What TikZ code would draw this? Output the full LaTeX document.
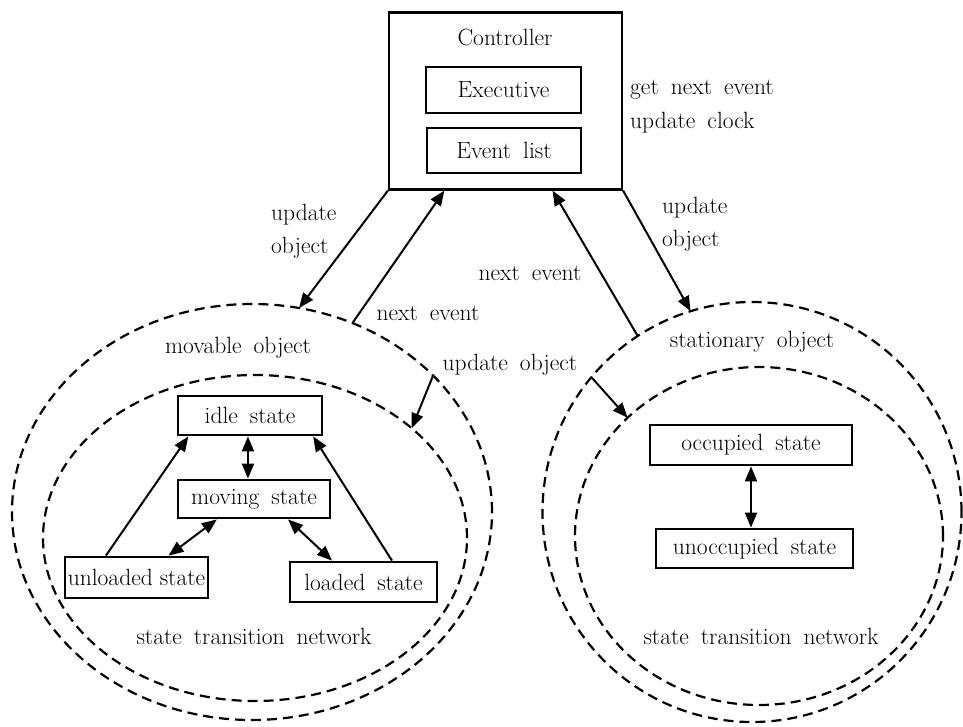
\documentclass[tikz,border=0pt]{standalone}
\usetikzlibrary{shapes.geometric,arrows.meta,calc}
\newcommand{\labelfont}{\fontsize{23.5}{33}\selectfont\spaceskip=12pt plus 2pt minus 1pt\relax}
\newcommand{\tightlabelfont}{\fontsize{23.5}{33}\selectfont\spaceskip=7pt plus 1pt minus 1pt\relax}
\begin{document}
\begin{tikzpicture}[x=1pt,y=-1pt,
  every node/.style={font=\labelfont},
  box/.style={draw, rectangle, line width=2.8pt, inner sep=0pt},
  ring/.style={draw, ellipse, dash pattern=on 10pt off 6pt, line width=2.2pt, inner sep=0pt, outer sep=0pt},
  tip/.tip={Triangle[length=15pt,width=12pt]},
  conn/.style={line width=2pt, -tip},
  both/.style={line width=2pt, tip-tip},
  txt/.style={inner sep=0pt}]
\useasboundingbox (0,0) rectangle (963,726);

% dashed object and network boundaries
\node[ring, minimum width=480pt, minimum height=416pt] (movable) at (252,512) {};
\node[ring, minimum width=424pt, minimum height=326pt] (stnl) at (255,538) {};
\node[ring, minimum width=419pt, minimum height=420pt] (stationary) at (752,512) {};
\node[ring, minimum width=368pt, minimum height=338pt] (stnr) at (759,536) {};

% controller
\node[box, line width=2.2pt, minimum width=233pt, minimum height=177pt] (ctrl) at (505.5,101) {};
\node[txt] (ctrltitle) at (505,37) {Controller};
\node[box, minimum width=155pt, minimum height=46pt] (exec) at (503.5,90) {Executive};
\node[box, minimum width=154pt, minimum height=45pt] (evlist) at (504,150.5) {Event list};
\node[txt, anchor=west] (gne) at (630,90) {get next event};
\node[txt, anchor=west] (uclk) at (630,123) {update clock};

% states of the movable object
\node[box, minimum width=144pt, minimum height=39pt] (idle) at (250,415.5) {idle state};
\node[box, minimum width=152pt, minimum height=38pt] (moving) at (254,499) {moving state};
\node[box, minimum width=143pt, minimum height=41pt, font=\tightlabelfont] (unloaded) at (136.5,577.5) {unloaded state};
\node[box, minimum width=147pt, minimum height=40pt] (loaded) at (363.5,582) {loaded state};

% states of the stationary object
\node[box, minimum width=202pt, minimum height=40pt] (occupied) at (751,445) {occupied state};
\node[box, minimum width=197pt, minimum height=39pt] (unoccupied) at (754.5,548.5) {unoccupied state};

% labels
\node[txt, align=left, anchor=west] (updL) at (271,231) {update\\object};
\node[txt, align=left, anchor=west] (updR) at (662,224) {update\\object};
\node[txt] (neR) at (530,273) {next event};
\node[txt] (neL) at (428,313) {next event};
\node[txt] (updM) at (510,365) {update object};
\node[txt] (movlbl) at (238,348) {movable object};
\node[txt] (stalbl) at (752,342) {stationary object};
\node[txt] (stnLlbl) at (254,636) {state transition network};
\node[txt] (stnRlbl) at (761,636) {state transition network};

% controller <-> objects
\draw[conn] (ctrl.south west) -- (movable.77);
\draw[conn] (movable.62) -- ($(ctrl.south west)!0.24!(ctrl.south east)$);
\draw[conn] (stationary.123) -- ($(ctrl.south west)!0.70!(ctrl.south east)$);
\draw[conn] (ctrl.south east) -- (stationary.107);
\draw[conn] (movable.37) -- (stnl.35);
\draw[conn] (stationary.140) -- (stnr.138);

% transitions
\coordinate (im) at ($(idle.south west)!0.486!(idle.south east)$);
\draw[conn] ($(unloaded.north west)!0.29!(unloaded.north east)$) -- ($(idle.south west)!0.08!(idle.south east)$);
\draw[conn] ($(loaded.north west)!0.69!(loaded.north east)$) -- ($(idle.south west)!0.93!(idle.south east)$);
\draw[both] (im) -- (im |- moving.north);
\draw[both] ($(moving.south west)!0.26!(moving.south east)$) -- ($(unloaded.north west)!0.72!(unloaded.north east)$);
\draw[both] ($(moving.south west)!0.72!(moving.south east)$) -- ($(loaded.north west)!0.29!(loaded.north east)$);
\draw[both] (occupied.south) -- (occupied.south |- unoccupied.north);
\end{tikzpicture}
\end{document}
